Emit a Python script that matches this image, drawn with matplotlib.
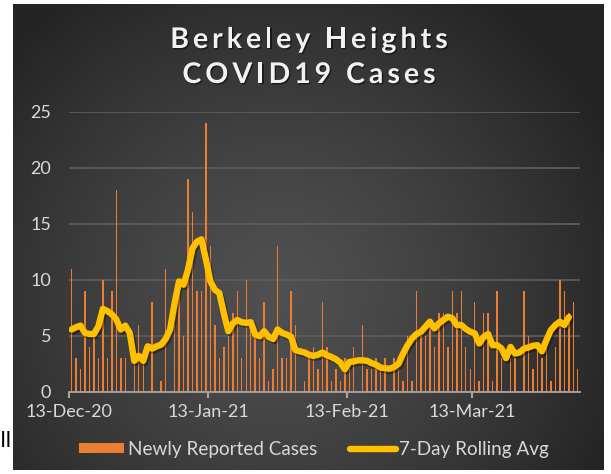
import numpy as np
import pandas as pd
import matplotlib
matplotlib.use('Agg')
import matplotlib.pyplot as plt
import matplotlib.dates as mdates
from matplotlib.patches import Patch
from matplotlib.lines import Line2D
from matplotlib.font_manager import FontProperties
import matplotlib.patheffects as pe

# ---------------- data ----------------
start_date = '2020-12-13'
new_cases = [11, 3, 2, 9, 4, 5, 3, 10, 3, 9, 18, 3, 3, 0, 3, 6, 3, 0, 8, 0,
             1, 11, 0, 6, 10, 5, 19, 16, 9, 9, 24, 13, 6, 3, 4, 5, 7, 9, 3, 10,
             6, 5, 3, 8, 1, 2, 13, 3, 3, 9, 6, 0, 1, 3, 4, 2, 8, 4, 1, 2,
             1, 3, 2, 4, 0, 6, 2, 2, 3, 2, 3, 0, 3, 2, 1, 5, 1, 9, 5, 5,
             6, 4, 7, 7, 4, 9, 7, 9, 4, 2, 8, 1, 7, 7, 1, 9, 3, 0, 3, 3,
             0, 9, 5, 2, 4, 3, 4, 1, 4, 10, 9, 7, 8, 2]
rolling_avg = [5.55, 5.75, 5.9, 5.25, 5.15, 5.15, 5.85, 7.4, 7.2, 6.9,
               6.45, 5.55, 5.9, 5.25, 2.75, 3.2, 2.75, 4.05, 3.85, 4.05,
               4.2, 4.7, 5.55, 7.9, 9.85, 9.55, 10.9, 12.8, 13.4, 13.6,
               11.8, 9.85, 9.1, 8.8, 7.0, 5.4, 6.1, 6.4, 6.2, 6.15,
               6.2, 5.1, 4.95, 5.4, 4.9, 4.7, 5.55, 5.25, 5.1, 4.9,
               3.7, 3.6, 3.5, 3.3, 3.2, 3.3, 3.5, 3.25, 3.1, 2.9,
               2.6, 2.0, 2.65, 2.7, 2.8, 2.8, 2.75, 2.55, 2.4, 2.15,
               2.1, 2.05, 2.2, 2.5, 3.4, 4.15, 4.75, 5.15, 5.35, 5.8,
               6.25, 5.65, 6.1, 6.4, 6.7, 6.55, 5.95, 5.95, 5.6, 5.35,
               5.2, 4.3, 4.9, 5.15, 4.15, 4.15, 3.85, 3.0, 4.0, 3.4,
               3.5, 3.85, 3.95, 4.1, 4.15, 3.6, 4.6, 5.5, 5.95, 6.25,
               5.95, 6.65]
x_tick_dates = ['2020-12-13', '2021-01-13', '2021-02-13', '2021-03-13']
y_ticks = [0, 5, 10, 15, 20, 25]
title_lines = ['Berkeley Heights', 'COVID19 Cases']
legend_labels = ['Newly Reported Cases', '7-Day Rolling Avg']

BAR_COLOR = '#ED7D31'
LINE_COLOR = '#FFC000'
TEXT_COLOR = '#d9d9d9'
FONT = ['Lato', 'DejaVu Sans']

W, H = 611, 474
fig = plt.figure(figsize=(W / 100, H / 100), dpi=100)
fig.patch.set_facecolor('white')

# ---------------- background panel (radial gradient) ----------------
px0, px1, py0, py1 = 13, 604, 4, 470
bg = fig.add_axes([px0 / W, 1 - py1 / H, (px1 - px0) / W, (py1 - py0) / H])
gw, gh = px1 - px0, py1 - py0
yy, xx = np.mgrid[0:gh, 0:gw]
cx, cy = gw * 0.45, gh * 0.62
r = np.sqrt(((xx - cx) / (gw * 0.62)) ** 2 + ((yy - cy) / (gh * 0.78)) ** 2)
r = np.clip(r, 0, 1)
inner = np.array([0x50, 0x50, 0x50]) / 255
outer = np.array([0x24, 0x24, 0x24]) / 255
img = inner + (outer - inner) * (r[..., None] ** 1.3)
bg.imshow(img, aspect='auto', interpolation='bilinear')
bg.axis('off')

# ---------------- main axes ----------------
ax = fig.add_axes([69.3 / W, 1 - 391.7 / H, (580 - 69.3) / W, (391.7 - 111.7) / H])
ax.set_facecolor('none')
dates = pd.date_range(start_date, periods=len(new_cases))
x0 = mdates.date2num(dates[0])
xb = mdates.date2num(dates) + 0.5
ax.bar(xb, new_cases, width=0.32, color=BAR_COLOR, zorder=2, linewidth=0)
xl = xb[:len(rolling_avg)]
ax.plot(xl, rolling_avg, color=LINE_COLOR, lw=4.6, solid_joinstyle='round',
        solid_capstyle='round', zorder=3,
        path_effects=[pe.SimpleLineShadow(offset=(1.2, -1.5), shadow_color='black', alpha=0.35),
                      pe.Normal()])
ax.set_xlim(x0, x0 + len(new_cases))
ax.set_ylim(0, 25)

for s in ['top', 'right', 'left']:
    ax.spines[s].set_visible(False)
ax.spines['bottom'].set_color('#a6a6a6')
ax.spines['bottom'].set_linewidth(1.3)
ax.spines['bottom'].set_zorder(4)

ax.set_yticks(y_ticks)
ax.set_yticklabels([str(v) for v in y_ticks])
ax.yaxis.grid(True, color='#5c5c5c', linewidth=1.3, zorder=1)
ax.set_axisbelow(True)
xt = mdates.date2num(pd.to_datetime(x_tick_dates))
ax.set_xticks(xt)
ax.set_xticklabels([pd.Timestamp(d).strftime('%d-%b-%y') for d in x_tick_dates])
ax.tick_params(axis='y', length=0, pad=13, labelcolor=TEXT_COLOR, labelsize=13)
ax.tick_params(axis='x', length=4, width=1.5, color='#a6a6a6', pad=5,
               labelcolor=TEXT_COLOR, labelsize=13)
for lab in ax.get_xticklabels() + ax.get_yticklabels():
    lab.set_family(FONT)

# ---------------- title with letter spacing ----------------
fig.canvas.draw()
renderer = fig.canvas.get_renderer()
tprop = FontProperties(family=FONT, weight='bold', size=20.5)


def text_width(s):
    w, h, d = renderer.get_text_width_height_descent(s, tprop, ismath=False)
    return w


def spaced_title(s, cx_px, base_px, spacing):
    total = text_width(s) + spacing * (len(s) - 1)
    left = cx_px - total / 2
    for i, ch in enumerate(s):
        if ch == ' ':
            continue
        pos = text_width(s[:i + 1]) - text_width(ch) + i * spacing
        fig.text((left + pos) / W, 1 - base_px / H, ch, fontproperties=tprop,
                 color='#f2f2f2', ha='left', va='baseline',
                 path_effects=[pe.withSimplePatchShadow(offset=(1, -1), shadow_rgbFace='black', alpha=0.5)])


spaced_title(title_lines[0], 309, 48, 4.0)
spaced_title(title_lines[1], 309, 83, 4.0)

# ---------------- legend ----------------
handles = [Patch(facecolor=BAR_COLOR, edgecolor='none'),
           Line2D([], [], color=LINE_COLOR, lw=4.6, solid_capstyle='round')]
leg = fig.legend(handles, legend_labels, loc='center', bbox_to_anchor=(314 / W, 1 - 449 / H),
                 ncol=2, frameon=False, labelcolor=TEXT_COLOR,
                 handlelength=2.4, handleheight=0.42, handletextpad=0.2, columnspacing=1.75,
                 prop=FontProperties(family=FONT, size=13.6))

# stray text at left edge
fig.text(0 / W, 1 - 441 / H, 'll', fontsize=16, color='black', va='center', ha='left',
         family='DejaVu Sans')

fig.savefig('out.png', dpi=100, facecolor='white')
